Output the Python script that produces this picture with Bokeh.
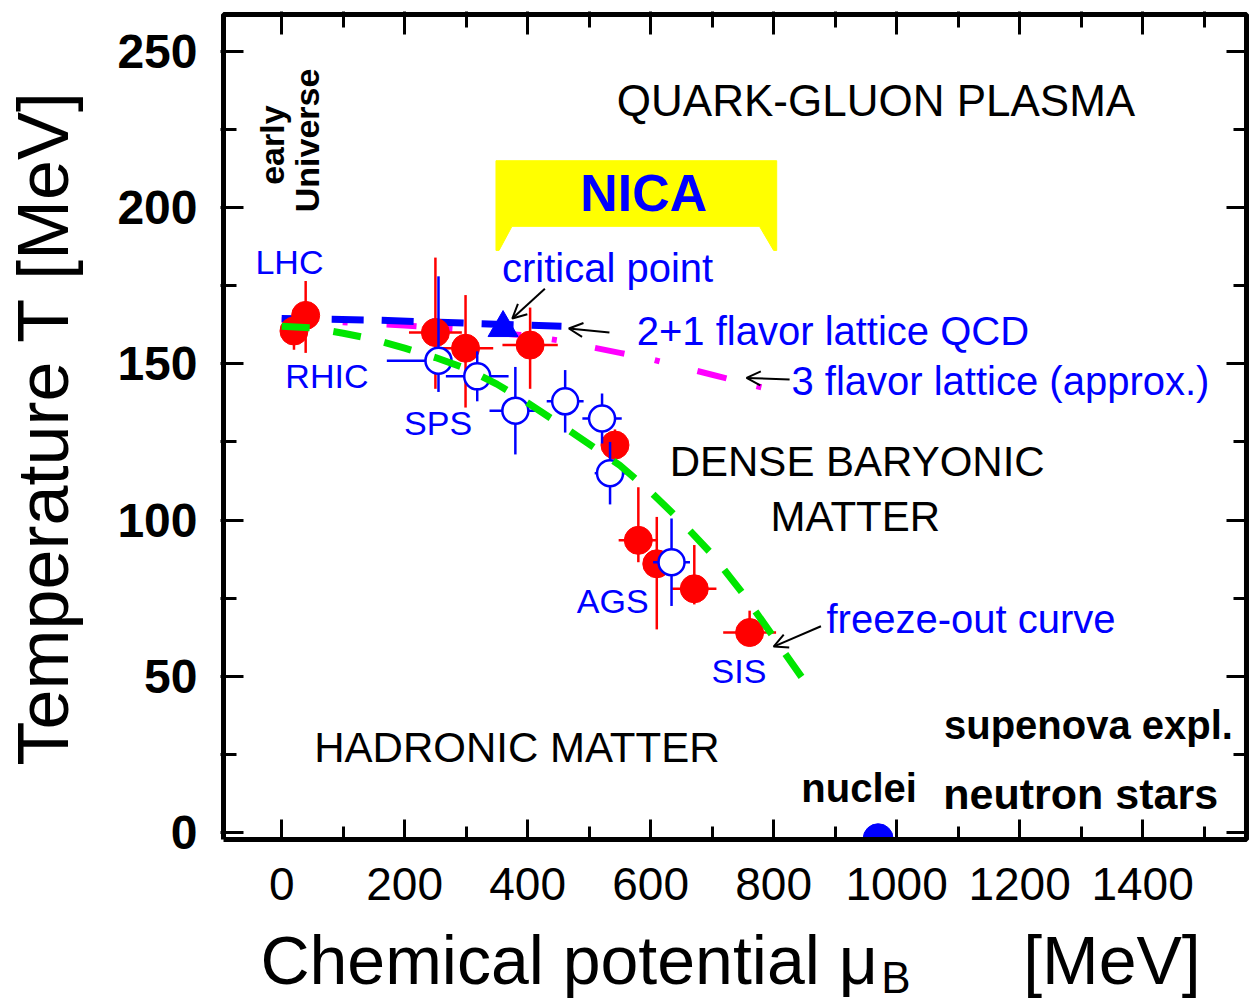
import numpy as np
from bokeh.plotting import figure
from bokeh.models import (Range1d, LinearAxis, FixedTicker, Label, Arrow, OpenHead,
                          CustomJSTickFormatter)
from bokeh.embed import file_html
from bokeh.resources import INLINE

# ---------------- data ----------------
x_ticks = [0, 200, 400, 600, 800, 1000, 1200, 1400]
x_minor = [100, 300, 500, 700, 900, 1100, 1300, 1500]
y_ticks = [0, 50, 100, 150, 200, 250]
y_minor = [25, 75, 125, 175, 225]

# red filled points
red_mu = [20, 39, 250, 299, 404, 542, 580, 610, 671, 761]
red_T = [160.5, 165.5, 160, 155, 156, 124, 93.5, 86, 78, 64]
red_T_lo = [6, 12, 18, 19, 14, 5, 7, 21, 5, 4]
red_T_hi = [5, 11, 24, 17, 12, 5, 17, 15, 14, 7]
red_mu_err = [0, 0, 43, 45, 45, 0, 32, 0, 36, 43]

# blue open points
blue_mu = [255, 318, 380, 461, 521, 534, 634]
blue_T = [151, 146, 135, 138, 132.5, 115, 86.5]
blue_T_lo = [10, 8, 14, 10, 8, 10, 14]
blue_T_hi = [27, 8, 14, 10, 8, 10, 14]
blue_mu_lo = [84, 51, 42, 30, 32, 25, 30]
blue_mu_hi = [20, 51, 42, 30, 32, 25, 30]

# freeze-out curve
fo_mu = [0, 50, 100, 150, 200, 250, 300, 350, 400, 450, 500, 550, 600, 650, 700, 750, 800, 850]
fo_T = [162, 161.5, 159.8, 157.8, 155, 152, 148.5, 143.5, 137.5, 131, 124.3, 117.5, 109,
        99.5, 89, 76.5, 62.5, 48.5]

# 2+1 flavour lattice QCD
lqcd_mu = [0, 150, 300, 455]
lqcd_T = [164.5, 164, 163, 162]

# 3 flavour lattice (approx.)
l3_mu = [0, 100, 200, 300, 400, 450, 500, 550, 600, 650, 700, 750, 800]
l3_T = [164, 163.3, 162.3, 160.8, 159, 157.5, 155.5, 153.5, 151.5, 149, 146.5, 144, 141.5]

crit_mu = [360]
crit_T = [161.5]

nuclei_mu = [970]
nuclei_T = [-2]

nica_mu = [348.5, 805]
nica_mu_inner = [374.5, 777]
nica_T = [186.3, 194, 215]

# plot box limits (drawn frame)
box_mu = [-94.6, 1569]
box_T = [-2.24, 261.8]

FONT = "Liberation Sans"

# ---------------- figure ----------------
p = figure(width=1249, height=1003,
           x_range=Range1d(-99.5, 1573.9), y_range=Range1d(-54.73, 262.76),
           output_backend="svg", toolbar_location=None,
           min_border_left=218, min_border_right=0, min_border_top=11, min_border_bottom=0,
           background_fill_color="white", border_fill_color="white")
p.grid.visible = False
p.outline_line_color = None

xt = FixedTicker(ticks=x_ticks, minor_ticks=x_minor)
yt = FixedTicker(ticks=y_ticks, minor_ticks=y_minor)
xa = p.below[0]
ya = p.left[0]
xa.ticker = xt
ya.ticker = yt
xa.fixed_location = box_T[0]
top = LinearAxis(ticker=xt, formatter=CustomJSTickFormatter(code="return ''"))
right = LinearAxis(ticker=yt, formatter=CustomJSTickFormatter(code="return ''"))
p.add_layout(top, "above")
p.add_layout(right, "right")
for ax in [xa, ya, top, right]:
    ax.axis_line_color = None
    ax.major_tick_out = 0
    ax.minor_tick_out = 0
    ax.major_tick_line_width = 3
    ax.minor_tick_line_width = 3
    ax.major_tick_line_color = "black"
    ax.minor_tick_line_color = "black"
xa.major_tick_in = 20
xa.minor_tick_in = 13
for ax in [ya, top, right]:
    ax.major_tick_in = 23
    ax.minor_tick_in = 16
for ax in [top, right]:
    ax.major_label_text_font_size = "0px"
    ax.major_label_standoff = 0

xa.major_label_text_font = FONT
xa.major_label_text_font_size = "46px"
xa.major_label_text_color = "black"
xa.major_label_standoff = 29
ya.major_label_text_font = FONT
ya.major_label_text_font_size = "48px"
ya.major_label_text_font_style = "bold"
ya.major_label_text_color = "black"
ya.major_label_standoff = 23

ya.axis_label = "\u00a0" * 8 + "Temperature T [MeV]"
ya.axis_label_text_font = FONT
ya.axis_label_text_font_size = "72px"
ya.axis_label_text_font_style = "normal"
ya.axis_label_text_color = "black"
ya.axis_label_standoff = 31

# ---------------- NICA box ----------------
nica_xs = [nica_mu[0], nica_mu[1], nica_mu[1], nica_mu[1] - 5, nica_mu_inner[1],
           nica_mu_inner[0], nica_mu[0] + 5, nica_mu[0]]
nica_ys = [nica_T[2], nica_T[2], nica_T[0], nica_T[0], nica_T[1], nica_T[1], nica_T[0], nica_T[0]]
p.patch(nica_xs, nica_ys, fill_color="#ffff00", line_color="#ffff00", line_width=1)

# ---------------- lattice lines ----------------
p.line(l3_mu, l3_T, line_color="#ff00ff", line_width=6, line_dash="30 31 5 39")
p.line(lqcd_mu, lqcd_T, line_color="#0000ff", line_width=7, line_dash="32 18")

# ---------------- red points ----------------
rmu = np.array(red_mu, float); rT = np.array(red_T, float)
p.segment(x0=rmu, x1=rmu, y0=rT - np.array(red_T_lo), y1=rT + np.array(red_T_hi),
          line_color="#ff0000", line_width=2.5)
p.segment(x0=rmu - np.array(red_mu_err), x1=rmu + np.array(red_mu_err), y0=rT, y1=rT,
          line_color="#ff0000", line_width=2.5)
p.scatter(red_mu, red_T, marker="circle", size=28, fill_color="#ff0000", line_color="#ff0000")

# ---------------- blue open points ----------------
bmu = np.array(blue_mu, float); bT = np.array(blue_T, float)
p.segment(x0=bmu, x1=bmu, y0=bT - np.array(blue_T_lo), y1=bT + np.array(blue_T_hi),
          line_color="#0000ff", line_width=2.5)
p.segment(x0=bmu - np.array(blue_mu_lo), x1=bmu + np.array(blue_mu_hi), y0=bT, y1=bT,
          line_color="#0000ff", line_width=2.5)
p.scatter(blue_mu, blue_T, marker="circle", size=26, fill_color="white", line_color="#0000ff",
          line_width=2.5)

# ---------------- freeze-out curve ----------------
p.line(fo_mu, fo_T, line_color="#00e600", line_width=7, line_dash="28 24")

# critical point, nuclei
p.scatter(crit_mu, crit_T, marker="triangle", size=30, fill_color="#0000ff", line_color="#0000ff")
p.wedge(nuclei_mu, nuclei_T, radius=15, radius_units="screen", start_angle=0, end_angle=np.pi,
        fill_color="#0000ff", line_color="#0000ff")

# ---------------- plot box ----------------
p.line([box_mu[0], box_mu[0], box_mu[1], box_mu[1], box_mu[0]],
       [box_T[0], box_T[1], box_T[1], box_T[0], box_T[0]],
       line_color="black", line_width=5)

# ---------------- arrows ----------------
def arrow(xs, ys, xe, ye):
    p.add_layout(Arrow(x_start=xs, y_start=ys, x_end=xe, y_end=ye, line_width=2,
                       line_color="black",
                       end=OpenHead(size=14, line_width=2, line_color="black")))

arrow(428, 174, 375, 164.5)
arrow(533, 160, 467, 161.3)
arrow(826, 145, 756, 145.5)
arrow(877, 66, 800, 59.5)

# ---------------- texts ----------------
SHIFT = 0.38  # baseline correction (fraction of font size)

def text(t, x, y, size, color="black", bold=False, align="left", rotated=False):
    kw = dict(x_offset=-SHIFT * size, angle=np.pi / 2) if rotated else dict(y_offset=SHIFT * size)
    p.add_layout(Label(x=x, y=y, text=t, text_font=FONT, text_font_size=f"{size}px",
                       text_color=color, text_font_style="bold" if bold else "normal",
                       text_align=align, text_baseline="alphabetic", **kw))

text("QUARK-GLUON PLASMA", 545, 228.9, 44)
text("DENSE BARYONIC", 631, 113.6, 42)
text("MATTER", 795, 96, 42)
text("HADRONIC MATTER", 53, 22.1, 42)
text("supenova expl.", 1077, 29.4, 40, bold=True)
text("nuclei", 845, 9.3, 40, bold=True)
text("neutron stars", 1076, 7, 43, bold=True)
text("early", 6, 220, 34, bold=True, align="center", rotated=True)
text("Universe", 62.8, 221.5, 34, bold=True, align="center", rotated=True)
text("NICA", 589, 198.5, 52, color="#0000ff", bold=True, align="center")

BLUE = "#0000ff"
text("LHC", -42.7, 178.3, 34, color=BLUE)
text("RHIC", 6, 142.1, 34, color=BLUE)
text("SPS", 199, 127, 34, color=BLUE)
text("AGS", 480, 70.1, 34, color=BLUE)
text("SIS", 699, 47.7, 34, color=BLUE)
text("critical point", 358.3, 175.7, 40, color=BLUE)
text("2+1 flavor lattice QCD", 577.4, 155.6, 40, color=BLUE)
text("3 flavor lattice (approx.)", 829, 139.6, 40, color=BLUE)
text("freeze-out curve", 886, 63.4, 40, color=BLUE)

# x-axis title (with subscript B)
text("Chemical potential \u03bc", -34.6, -49, 68)
text("B", 975, -51.6, 44)
text("[MeV]", 1494.6, -49, 68, align="right")

open("out.html", "w").write(file_html(p, INLINE, title="QCD phase diagram"))
